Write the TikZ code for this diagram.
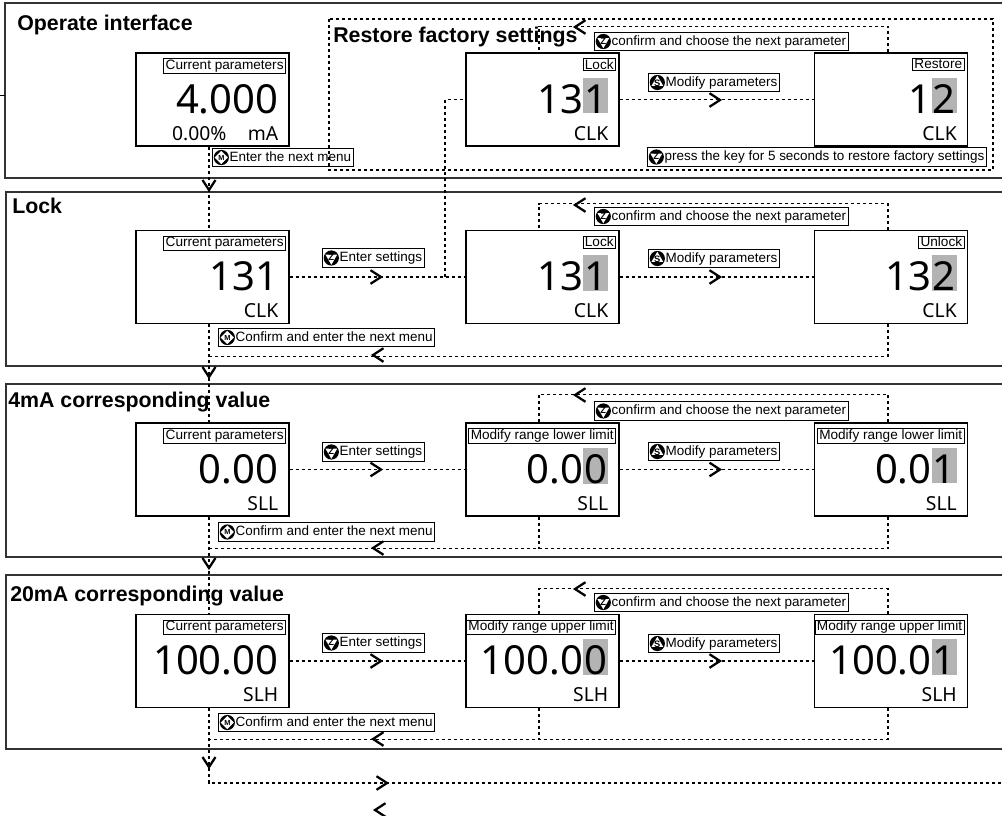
\documentclass[tikz,border=0pt]{standalone}
\usepackage{fontspec}
\setmainfont{Liberation Sans}
\newfontfamily\numfont{Noto Sans}
\usetikzlibrary{calc}
\definecolor{hlgray}{HTML}{B3B3B3}
\newcommand\hlt[1]{{\setlength{\fboxsep}{0pt}\colorbox{hlgray}{\rule{0pt}{0.88em}\kern0.03em#1\kern0.03em}}}
\newcommand\lcdbox[5]{%
 \node[lcd] (#1) at (#2) {};
 \node[tag] (#1t) at ([xshift=-3pt,yshift=-4.5pt]#1.north east) {#3};
 \node[num] (#1n) at ([xshift=-8.5pt,yshift=-45.75pt]#1.north east) {#4};
 \node[sml] (#1s) at ([xshift=-8.5pt,yshift=-66pt]#1.north east) {#5};
}
\newcommand\klabel[4]{%
 \node[lbl] (#1) at (#2) {\hspace*{11.5pt}#4};
 \pic at ([xshift=7pt]#1.west) {#3};
}
\tikzset{
 iconl/.style={font=\fontsize{7}{7}\selectfont\bfseries, inner sep=0pt},
 chevst/.style={line width=1.7pt, solid, line join=miter},
 zic/.pic={\fill (0,0) circle[radius=7.6]; \fill[white] (-5.9,-3.4) -- (5.9,-3.4) -- (0,6.8) -- cycle; \node[iconl] at (0,-0.6) {Z};},
 sic/.pic={\fill (0,0) circle[radius=7.6]; \fill[white] (-5.9,3.4) -- (5.9,3.4) -- (0,-6.8) -- cycle; \node[iconl] at (0,0.9) {S};},
 mic/.pic={\fill (0,0) circle[radius=7.6]; \fill[white] (0,-6.6) -- (6.6,0) -- (0,6.6) -- (-6.6,0) -- cycle; \node[iconl, font=\fontsize{5.5}{5.5}\selectfont\bfseries] at (0,0) {M};},
 chr/.pic={\draw[chevst] (-10.5,-6.8) -- (0,0) -- (-10.5,6.8);},
 chl/.pic={\draw[chevst] (10.5,-6.8) -- (0,0) -- (10.5,6.8);},
 chd/.pic={\draw[chevst] (-6.5,-10) -- (0,0) -- (6.5,-10);},
}
\begin{document}
\begin{tikzpicture}[x=0.75pt,y=-0.75pt,
 panel/.style={draw=black!80, line width=1pt},
 lcd/.style={draw, line width=1.3pt, minimum width=114.75pt, minimum height=69.75pt, inner sep=0pt},
 tag/.style={draw, line width=0.6pt, inner xsep=1.4pt, inner ysep=0.8pt, font=\fontsize{10.2}{10.2}\selectfont, anchor=north east},
 num/.style={font=\numfont\fontsize{30}{30}\selectfont, inner sep=0pt, anchor=base east},
 sml/.style={font=\numfont\fontsize{14.5}{14.5}\selectfont, inner sep=0pt, anchor=base east},
 conn/.style={dash pattern=on 2.3pt off 2.2pt, line width=0.85pt},
 lbl/.style={draw, line width=0.6pt, inner xsep=1.5pt, inner ysep=2pt, text height=7.7pt, text depth=2.3pt, font=\fontsize{10.1}{10.1}\selectfont, anchor=west},
 ttl/.style={font=\fontsize{16}{16}\selectfont\bfseries, inner sep=0pt, anchor=base west},
]
\useasboundingbox (0,0) rectangle (1002,815);
\fill[white] (0,0) rectangle (1002,815);

% panels
\draw[panel] (1010,3) -| (5,178) -- (1010,178);
\draw[panel] (1010,192) -| (6,366) -- (1010,366);
\draw[panel] (1010,384) -| (6,557) -- (1010,557);
\draw[panel] (1010,575) -| (6,749) -- (1010,749);
\draw[line width=0.6pt] (0,95) -- (5,95);

% titles
\node[ttl] (t1) at (17,30) {Operate interface};
\node[ttl] (t2) at (333,42) {Restore factory settings};
\node[ttl] (t3) at (12,213) {Lock};
\node[ttl] (t4) at (8,407) {4mA corresponding value};
\node[ttl] (t5) at (10,601) {20mA corresponding value};

% restore group frame
\draw[conn] (329,19) rectangle (993,170);

% displays
\lcdbox{a1}{212.5,99.5}{Current parameters}{4.000}{0.00\%\hspace*{16pt}mA}
\lcdbox{a2}{542.5,99.5}{Lock}{13\hlt{1}}{CLK}
\lcdbox{a3}{891,99.5}{Restore}{1\hlt{2}}{CLK}
\lcdbox{b1}{212.5,277}{Current parameters}{131}{CLK}
\lcdbox{b2}{542.5,277}{Lock}{13\hlt{1}}{CLK}
\lcdbox{b3}{891,277}{Unlock}{13\hlt{2}}{CLK}
\lcdbox{c1}{212.5,469.5}{Current parameters}{0.00}{SLL}
\lcdbox{c2}{542.5,469.5}{Modify range lower limit}{0.0\hlt{0}}{SLL}
\lcdbox{c3}{891,469.5}{Modify range lower limit}{0.0\hlt{1}}{SLL}
\lcdbox{d1}{212.5,661}{Current parameters}{100.00}{SLH}
\lcdbox{d2}{542.5,661}{Modify range upper limit}{100.0\hlt{0}}{SLH}
\lcdbox{d3}{891,661}{Modify range upper limit}{100.0\hlt{1}}{SLH}

% main vertical flow
\draw[conn] ($(a1.south)+(-3.5,0)$) -- ($(b1.north)+(-3.5,0)$);
\draw[conn] ($(b1.south)+(-3.5,0)$) -- ($(c1.north)+(-3.5,0)$);
\draw[conn] ($(c1.south)+(-3.5,0)$) -- ($(d1.north)+(-3.5,0)$);
\coordinate (out) at (1010,783);
\draw[conn] ($(d1.south)+(-3.5,0)$) |- (out);
\pic at (209,190) {chd};
\pic at (209,377) {chd};
\pic at (209,568) {chd};
\pic at (209,767) {chd};
\pic at (387,783) {chr};
\pic at (375,810) {chl};

% horizontal flows
\draw[conn] (a2.east) -- (a3.west);
\draw[conn] (b1.east) -- (b2.west);
\draw[conn] (b2.east) -- (b3.west);
\draw[conn] (c1.east) -- (c2.west);
\draw[conn] (c2.east) -- (c3.west);
\draw[conn] (d1.east) -- (d2.west);
\draw[conn] (d2.east) -- (d3.west);
\pic at (720,100) {chr};
\pic at (381,277) {chr};
\pic at (720,277) {chr};
\pic at (381,469.5) {chr};
\pic at (720,469.5) {chr};
\pic at (381,661) {chr};
\pic at (720,661) {chr};

% lock -> restore
\coordinate (j1) at (445,277);
\draw[conn] (j1) |- (a2.west);

% top loops
\draw[conn] ($(a3.north)+(-3,0)$) -- ++(0,-26) -| ($(a2.north)+(-3.5,0)$);
\draw[conn] ($(b3.north)+(-3,0)$) -- ++(0,-26) -| ($(b2.north)+(-3.5,0)$);
\draw[conn] ($(c3.north)+(-3,0)$) -- ++(0,-28) -| ($(c2.north)+(-3.5,0)$);
\draw[conn] ($(d3.north)+(-3,0)$) -- ++(0,-25) -| ($(d2.north)+(-3.5,0)$);
\pic at (575,27) {chl};
\pic at (575,205) {chl};
\pic at (575,395) {chl};
\pic at (575,589) {chl};

% bottom returns
\draw[conn] ($(b3.south)+(-3,0)$) |- ($(b1.south)+(-3.5,32)$);
\draw[conn] ($(c3.south)+(-3,0)$) |- ($(c1.south)+(-3.5,32)$);
\draw[conn] ($(c2.south)+(-3.5,0)$) -- ($(c2.south)+(-3.5,32)$);
\draw[conn] ($(d3.south)+(-3,0)$) |- ($(d1.south)+(-3.5,31)$);
\draw[conn] ($(d2.south)+(-3.5,0)$) -- ($(d2.south)+(-3.5,31)$);
\pic at (373,355) {chl};
\pic at (373,548) {chl};
\pic at (373,739) {chl};

% labels
\klabel{l1}{212,157.5}{mic}{Enter the next menu}
\klabel{l2}{594,41.5}{zic}{confirm and choose the next parameter}
\klabel{l3}{648,82.5}{sic}{Modify parameters}
\klabel{l4}{647,157}{zic}{press the key for 5 seconds to restore factory settings}
\klabel{l5}{322,258}{zic}{Enter settings}
\klabel{l6}{648,258.5}{sic}{Modify parameters}
\klabel{l7}{594,216.5}{zic}{confirm and choose the next parameter}
\klabel{l8}{218,337.5}{mic}{Confirm and enter the next menu}
\klabel{l9}{322,452}{zic}{Enter settings}
\klabel{l10}{648,451.5}{sic}{Modify parameters}
\klabel{l11}{594,411}{zic}{confirm and choose the next parameter}
\klabel{l12}{218,532}{mic}{Confirm and enter the next menu}
\klabel{l13}{322,643}{zic}{Enter settings}
\klabel{l14}{648,643.5}{sic}{Modify parameters}
\klabel{l15}{594,602.5}{zic}{confirm and choose the next parameter}
\klabel{l16}{218,722.5}{mic}{Confirm and enter the next menu}
\end{tikzpicture}
\end{document}
